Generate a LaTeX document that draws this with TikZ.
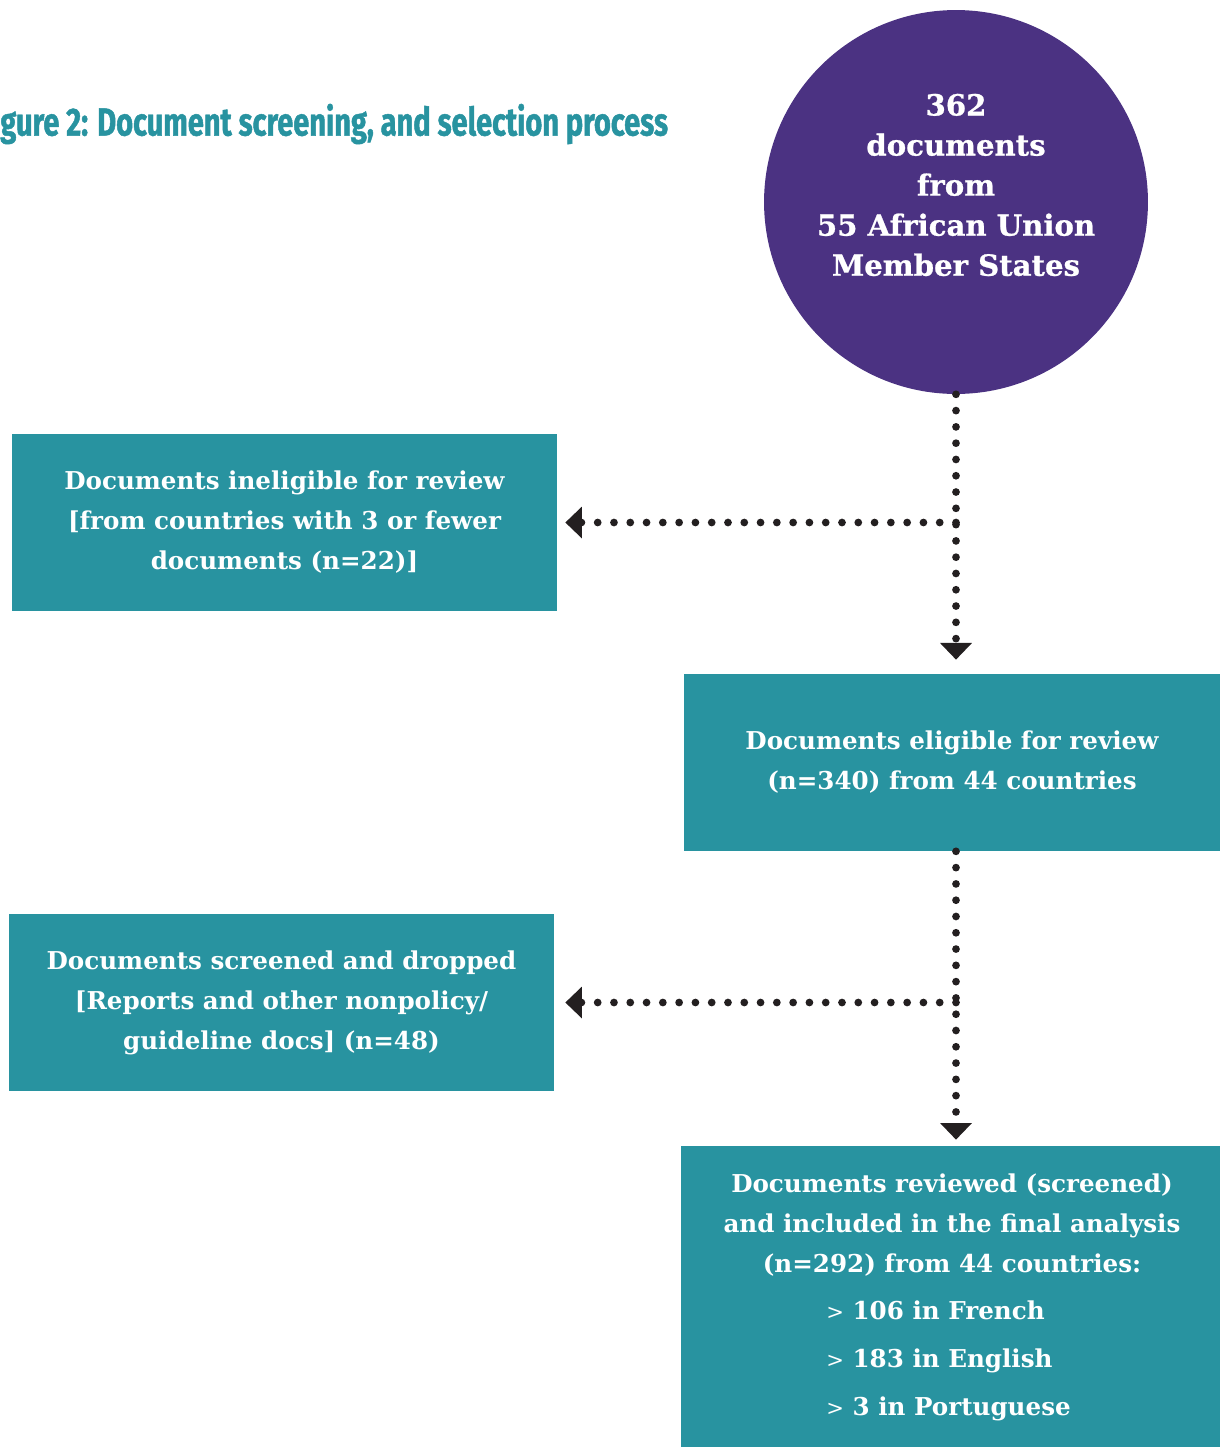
\documentclass[tikz,border=0pt]{standalone}
\usepackage{fontspec}
\setmainfont{DejaVu Serif}
\newfontfamily\titlefont[FakeStretch=0.74,FakeBold=1.2]{Fira Sans}
\newfontfamily\heavyserif[FakeBold=0.8]{DejaVu Serif}
\usetikzlibrary{arrows.meta}
\definecolor{boxteal}{RGB}{40,147,160}
\definecolor{srcpurple}{RGB}{75,50,130}
\definecolor{dotblack}{RGB}{35,31,32}
\newcommand{\langmark}{{\mdseries\fontsize{12}{12}\selectfont>}}
\begin{document}
\begin{tikzpicture}[x=0.02cm,y=-0.02cm,
  stagebox/.style={fill=boxteal,text=white,font=\fontsize{14}{22.8}\selectfont\bfseries,align=center,minimum width=10.9cm,minimum height=3.54cm,inner sep=0pt},
  flowdots/.style={dotblack,line width=4.4pt,line cap=round,dash pattern=on 0pt off 9.27pt,-{Triangle[width=17.6pt,length=9.5pt]}}]
\useasboundingbox (0,0) rectangle (1220,1447);
% source circle and title
\node[circle,fill=srcpurple,minimum size=7.68cm,inner sep=0pt] (src) at (956,202) {};
\node[text=white,font=\heavyserif\fontsize{16.6}{22.8}\selectfont\bfseries,align=center] (srctxt) at (956,185) {362\\documents\\from\\55 African Union\\Member States};
\node[anchor=west,inner sep=0pt,text=boxteal,font=\titlefont\bfseries\fontsize{22.3}{26}\selectfont] (title) at (0,124) {gure 2: Document screening, and selection process};
% boxes
\node[stagebox] (inelig) at (284.5,522.5) {Documents ineligible for review\\{[}from countries with 3 or fewer\\documents (n=22)]};
\node[stagebox,minimum width=10.72cm] (elig) at (952,762.5) {Documents eligible for review\\(n=340) from 44 countries};
\node[stagebox] (dropped) at (281.5,1002.5) {Documents screened and dropped\\{[}Reports and other nonpolicy/\\guideline docs] (n=48)};
\node[stagebox,minimum width=10.78cm,minimum height=6.02cm] (final) at (950.5,1296.5) {};
\node[text=white,font=\fontsize{14}{22.8}\selectfont\bfseries,align=center] (finaltxt) at (952,1225) {Documents reviewed (screened)\\and included in the final analysis\\(n=292) from 44 countries:};
\node[anchor=west,inner sep=0pt,text=white,font=\fontsize{14}{27.3}\selectfont\bfseries,align=left] (langs) at (826,1361) {\langmark{} 106 in French\\\langmark{} 183 in English\\\langmark{} 3 in Portuguese};
% dotted connectors
\draw[flowdots,shorten >=0.28cm] (src.south) -- (src.south |- elig.north);
\draw[flowdots,shorten >=0.16cm] (src.south |- inelig.east) -- (inelig.east);
\draw[flowdots,shorten >=0.12cm] (src.south |- elig.south) -- (src.south |- final.north);
\draw[flowdots,shorten >=0.22cm] (src.south |- dropped.east) -- (dropped.east);
\end{tikzpicture}
\end{document}
